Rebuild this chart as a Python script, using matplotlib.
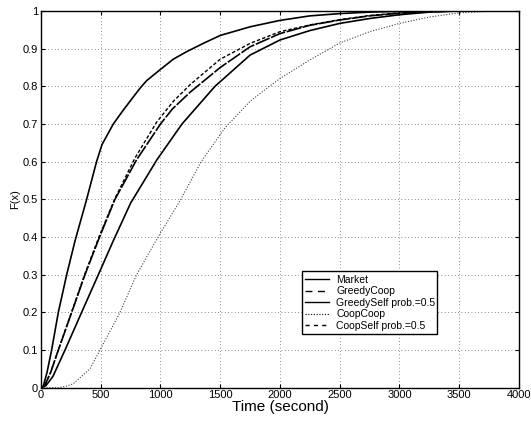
import matplotlib.pyplot as plt
from matplotlib.lines import Line2D

plt.rcParams['font.family'] = ['Liberation Sans', 'DejaVu Sans']

# time (s) and cumulative fraction F(x) for each strategy
market_t = [0, 20, 50, 89, 145, 215, 285, 382, 465, 510, 605, 689, 773, 834, 884, 1000, 1107,
            1219, 1358, 1500, 1750, 2000, 2250, 2500, 2750, 3000, 3250, 4000]
market_f = [0, 0.005, 0.04, 0.1, 0.2, 0.3, 0.39, 0.5, 0.6, 0.645, 0.7, 0.737, 0.772, 0.797, 0.815,
            0.845, 0.872, 0.892, 0.914, 0.935, 0.958, 0.975, 0.987, 0.993, 0.997, 0.999, 1.0, 1.0]

greedycoop_t = [0, 30, 80, 145, 257, 368, 490, 619, 800, 1000, 1100, 1250, 1500, 1750,
                2000, 2250, 2500, 2750, 3000, 3250, 3500, 4000]
greedycoop_f = [0, 0.005, 0.04, 0.1, 0.2, 0.3, 0.4, 0.5, 0.605, 0.7, 0.74, 0.785, 0.85,
                0.905, 0.94, 0.962, 0.976, 0.987, 0.994, 0.998, 1.0, 1.0]

greedyself_t = [0, 40, 100, 201, 340, 480, 605, 750, 970, 1180, 1456, 1750, 2000,
                2250, 2500, 2750, 3000, 3250, 3500, 4000]
greedyself_f = [0, 0.005, 0.03, 0.1, 0.2, 0.3, 0.39, 0.49, 0.605, 0.7, 0.8, 0.883,
                0.923, 0.948, 0.967, 0.98, 0.99, 0.997, 1.0, 1.0]

coopcoop_t = [0, 150, 200, 268, 410, 494, 661, 800, 980, 1170, 1340, 1540, 1749, 1890, 2006,
              2250, 2500, 2750, 3000, 3250, 3500, 3750, 4000]
coopcoop_f = [0, 0, 0.003, 0.01, 0.05, 0.1, 0.2, 0.3, 0.4, 0.5, 0.6, 0.69, 0.76, 0.795, 0.822,
              0.87, 0.915, 0.945, 0.967, 0.984, 0.995, 0.999, 1.0]

coopself_t = [0, 30, 80, 145, 255, 365, 485, 615, 787, 968, 1107, 1250, 1500, 1750,
              2000, 2250, 2500, 2750, 3000, 3250, 3500, 4000]
coopself_f = [0, 0.005, 0.04, 0.1, 0.2, 0.3, 0.4, 0.5, 0.61, 0.705, 0.76, 0.805, 0.872,
              0.914, 0.945, 0.963, 0.977, 0.988, 0.995, 0.999, 1.0, 1.0]

labels = ['Market', 'GreedyCoop', 'GreedySelf prob.=0.5', 'CoopCoop', 'CoopSelf prob.=0.5']

fig = plt.figure(figsize=(5.31, 4.22), dpi=100)
ax = fig.add_axes([0.0772, 0.0813, 0.9002, 0.8927])

ax.plot(market_t, market_f, color='k', lw=1.2)
ax.plot(greedycoop_t, greedycoop_f, color='k', lw=1.2, dashes=(9, 1))
ax.plot(greedyself_t, greedyself_f, color='k', lw=1.2)
ax.plot(coopcoop_t, coopcoop_f, color='0.25', lw=0.8, linestyle=(0, (1, 1.5)))
ax.plot(coopself_t, coopself_f, color='k', lw=1.0, linestyle=(0, (2.5, 1.5)))

ax.set_xlim(0, 4000)
ax.set_ylim(0, 1)
ax.set_xticks(range(0, 4001, 500))
ax.set_yticks([i / 10 for i in range(11)])
ax.set_yticklabels(['0', '0.1', '0.2', '0.3', '0.4', '0.5', '0.6', '0.7', '0.8', '0.9', '1'])
ax.tick_params(direction='in', top=True, right=True, labelsize=8, length=3, pad=2)
ax.grid(True, linestyle=(0, (1, 3)), color='k', lw=0.6, alpha=0.6)
for s in ax.spines.values():
    s.set_linewidth(1.0)

ax.set_xlabel('Time (second)', fontsize=11, labelpad=0)
ax.set_ylabel('F(x)', fontsize=8, labelpad=2)

# legend entries with the plain line styles
handles = [
    Line2D([], [], color='k', lw=1.0),
    Line2D([], [], color='k', lw=1.0, linestyle=(0, (5, 4))),
    Line2D([], [], color='k', lw=1.0),
    Line2D([], [], color='k', lw=0.8, linestyle=(0, (1, 1.5))),
    Line2D([], [], color='k', lw=1.0, linestyle=(0, (3, 3))),
]
leg = ax.legend(handles, labels, loc='lower left', bbox_to_anchor=(0.546, 0.1426, 0.282, 0.162),
                mode='expand', fontsize=7.5, fancybox=False, framealpha=1, edgecolor='k',
                handlelength=2.3, handletextpad=0.7, labelspacing=0.15, borderpad=0.3,
                borderaxespad=0)
leg.get_frame().set_linewidth(1.0)

plt.savefig('out.png', dpi=100)
